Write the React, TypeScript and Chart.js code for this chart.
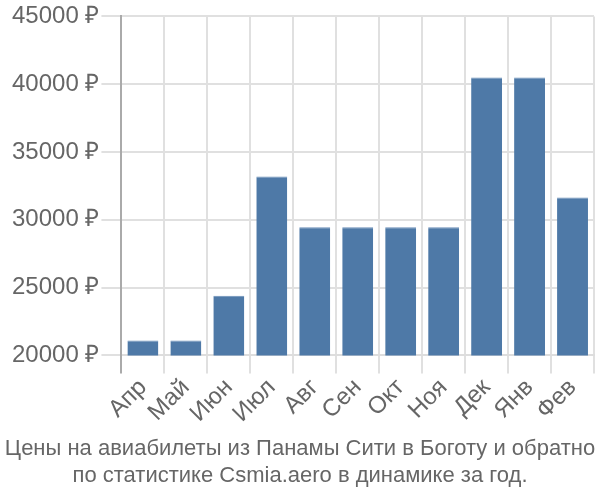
import React, { useEffect, useRef } from "react";
import { Chart, registerables } from "chart.js";

Chart.register(...registerables);

const categories = ["Апр", "Май", "Июн", "Июл", "Авг", "Сен", "Окт", "Ноя", "Дек", "Янв", "Фев"];
const prices = [21100, 21100, 24400, 33200, 29450, 29450, 29450, 29450, 40500, 40500, 31650];
const yTicks = [20000, 25000, 30000, 35000, 40000, 45000];
const titleLines = [
  "Цены на авиабилеты из Панамы Сити в Боготу и обратно",
  "по статистике Csmia.aero в динамике за год.",
];

const FONT = "'Liberation Sans', Arial, sans-serif";

export default function App() {
  const ref = useRef<HTMLCanvasElement | null>(null);
  useEffect(() => {
    document.body.style.margin = "0";
    const ctx = ref.current!;
    const chart = new Chart(ctx, {
      type: "bar",
      data: {
        labels: categories,
        datasets: [
          {
            data: prices,
            backgroundColor: "#4e79a7",
            borderColor: "#6a8fb8",
            borderWidth: { top: 1, left: 0, right: 0, bottom: 0 },
            categoryPercentage: 0.8,
            barPercentage: 0.9,
          },
        ],
      },
      options: {
        animation: false,
        responsive: false,
        maintainAspectRatio: false,
        layout: { padding: { left: 0, right: 0, top: 4, bottom: 0 } },
        plugins: {
          legend: { display: false },
          tooltip: { enabled: false },
          title: {
            display: true,
            position: "bottom",
            text: titleLines,
            color: "#666",
            font: { family: FONT, size: 22, weight: "normal", lineHeight: 1.2 },
            padding: { top: 8, bottom: 11 },
          },
        },
        scales: {
          x: {
            afterFit: (a: any) => {
              a.paddingRight = Math.max(a.paddingRight || 0, 6);
            },
            grid: {
              color: (c: any) => (c.index === 0 ? "#aaa" : "#e0e0e0"),
              lineWidth: 2,
              tickLength: 18,
              offset: true,
            },
            border: { color: "#ddd", width: 2 },
            ticks: {
              color: "#666",
              font: { family: FONT, size: 24 },
              maxRotation: 45,
              minRotation: 45,
              autoSkip: false,
              padding: 0,
            },
          },
          y: {
            min: 20000,
            max: 45000,
            afterBuildTicks: (axis: any) => {
              axis.ticks = yTicks.map((v) => ({ value: v }));
            },
            afterFit: (a: any) => {
              a.width += 10;
            },
            grid: { color: "#e0e0e0", lineWidth: 2, tickLength: 20 },
            border: { color: "#aaa", width: 2 },
            ticks: {
              color: "#666",
              font: { family: FONT, size: 24 },
              padding: 2,
              callback: (v: any) => `${v} ₽`,
            },
          },
        },
      },
    });
    return () => chart.destroy();
  }, []);
  return (
    <div style={{ width: 600, height: 500 }}>
      <canvas ref={ref} width={600} height={500} />
    </div>
  );
}
